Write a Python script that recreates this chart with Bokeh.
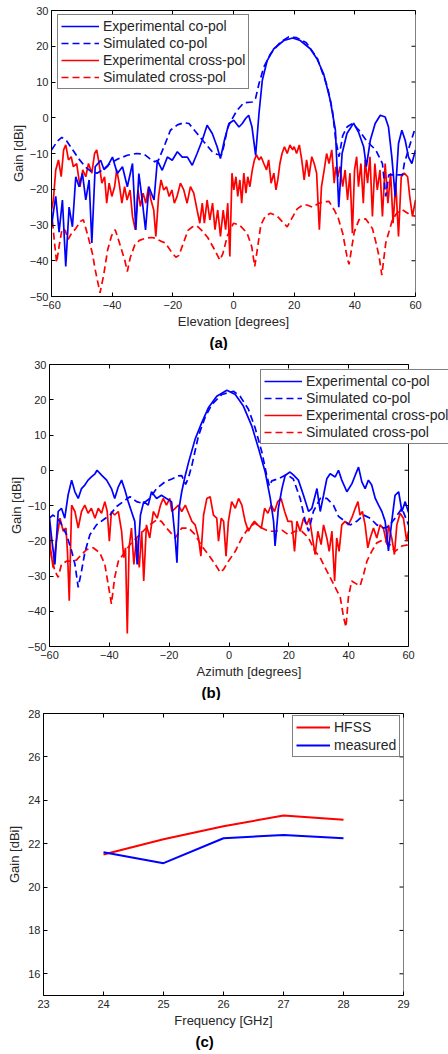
from math import pi
from bokeh.plotting import figure
from bokeh.models import (Range1d, FixedTicker, LinearAxis, CustomJSTickFormatter,
                          Legend, LegendItem, Title, Span)
from bokeh.embed import file_html
from bokeh.resources import INLINE

# ---------------- data: panel (a) elevation ----------------
A_EXP_CO = [(-60, -30.5), (-59.3, -26), (-58.6, -22), (-57.5, -32), (-56.4, -23), (-55.3, -41.6),
            (-54.2, -25), (-53.1, -30.5), (-52, -16.5), (-50.9, -19.3), (-49.8, -15.6), (-48.7, -23),
            (-47.6, -17.4), (-46.7, -35), (-45.6, -13.7), (-43.8, -11.9), (-42.7, -14.5), (-41.6, -13.7),
            (-39.9, -11), (-38.3, -15.6), (-36.6, -13.7), (-35, -19.3), (-33.3, -12.8), (-32.2, -31.4),
            (-31.2, -15.6), (-30.1, -23), (-29, -31.4), (-27.9, -19.3), (-26.2, -23), (-25.1, -11.9),
            (-23.5, -14.7), (-21.8, -11), (-20.2, -11.9), (-18.5, -9.5), (-16.9, -11), (-15.2, -11),
            (-13.6, -13.3), (-12, -10), (-10.3, -6.3), (-8.7, -2.1), (-7, -4.4), (-5.4, -8.1),
            (-4.3, -11.4), (-3, -6.3), (-1.5, -1.6), (0.1, -0.7), (1.8, -2.6), (2.9, -1.6), (4, -0.2),
            (5, 0.7), (6.1, -2.6), (7.3, -10.5), (8.4, 1.2), (9.5, 10.5), (11.1, 16), (13.3, 19.3),
            (16.6, 21.6), (19.5, 22.3), (22, 21.6), (25.3, 19.3), (27.5, 16.5), (29.7, 12.3),
            (31.9, 4.9), (33.6, -3.5), (34.7, -25), (35.8, -10), (37.4, -4.4), (39.6, -1.5),
            (41.2, -4), (42.9, -8.1), (43.8, -13.7), (45.1, -6.3), (46.7, -1.6), (48.4, 0.7),
            (50, 0.2), (51.1, -2.6), (52.2, -11), (53.3, -22), (54.4, -7.2), (55.5, -3.5),
            (56.6, -6.3), (57.7, -11), (58.8, -12.8), (60, -9)]

A_SIM_CO = [(-60, -9), (-58, -6.5), (-56.6, -5.5), (-55, -6.5), (-53.3, -8.6), (-51.1, -11.4),
            (-48.9, -13.7), (-47, -15), (-45, -15.5), (-43, -14.5), (-40.7, -12.8), (-38, -11.5),
            (-35, -10.5), (-32, -10), (-29.5, -10.2), (-27.5, -11.5), (-26, -12.3), (-24.7, -11.8),
            (-22.5, -7.2), (-20.8, -3.5), (-18.5, -2), (-16.4, -1.4), (-14.7, -1.6), (-12, -4.4),
            (-9.8, -6.7), (-7, -9.5), (-5.5, -10.2), (-4, -10.5), (-3.2, -8), (-2, -3), (-1, -1.1),
            (1.2, 2.1), (3.4, 4.2), (6.2, 4.4), (7.3, 5.5), (8.4, 9.5), (10, 14.2), (12.2, 17.9),
            (15.5, 21.2), (18.2, 22.6), (20.8, 22.4), (24, 21), (27.7, 16.5), (31, 8.6), (32.6, 2.1),
            (33.7, -6.2), (34.8, -10.9), (36, -5), (37.5, -2.5), (39.2, -1.6), (41.4, -3.5),
            (43.5, -6), (44.7, -7.2), (46.9, -9), (49.1, -12.8), (50.2, -22), (51.2, -16),
            (52.5, -16), (55.7, -16), (56.3, -12.8), (58, -8), (60, -2.6)]

A_EXP_X = [(-60, -25.8), (-59.4, -23), (-58.6, -14.6), (-57.7, -11.8), (-56.8, -16.5), (-56, -9),
           (-55.3, -7.6), (-54.4, -11.8), (-53.5, -10.9), (-52.8, -13.7), (-51.7, -12.8), (-50.6, -19.3),
           (-49.7, -14.6), (-48.7, -16.5), (-47.8, -12.8), (-46.7, -15.5), (-45.8, -10), (-45.1, -9),
           (-44.3, -12.8), (-43.4, -18.3), (-42.5, -16.5), (-41.8, -23.9), (-41, -18.3), (-40.1, -22),
           (-39.2, -19.3), (-38.5, -14.6), (-37.7, -18.3), (-36.8, -23.9), (-35.9, -19.3), (-35.1, -23),
           (-34.1, -20.2), (-33.3, -27.6), (-32.4, -31.3), (-31.5, -20.2), (-30.7, -24.8), (-29.8, -21.1),
           (-28.9, -23.9), (-28, -19.3), (-27.2, -23), (-26.3, -25.8), (-25.6, -33.2), (-24.7, -22),
           (-23.9, -17.4), (-23, -20.2), (-22.1, -19.3), (-21.2, -22), (-20.3, -20.2), (-19.5, -23.9),
           (-18.6, -22), (-17.5, -18.3), (-16.4, -20.2), (-15.3, -23.9), (-14.2, -19.3), (-13.1, -21.1),
           (-12, -25.8), (-11.1, -29.5), (-10.3, -23.9), (-9.6, -29.5), (-8.7, -23), (-7.8, -28.6),
           (-6.9, -23.9), (-6.1, -31.3), (-5.2, -25.8), (-4.3, -33.2), (-3.4, -25.8), (-2.6, -31.3),
           (-1.9, -23.9), (-1.2, -38.8), (-0.5, -15.5), (0.1, -20.2), (0.8, -16.5), (1.4, -22),
           (2.1, -17.4), (2.7, -23.9), (3.4, -15.5), (4.1, -21.1), (4.7, -16.5), (5.4, -19.3),
           (6.2, -14.6), (6.9, -11.8), (7.6, -10.4), (8.4, -11.8), (9.1, -10.9), (10, -12.8),
           (10.9, -14.6), (11.6, -11.8), (12.4, -18.3), (13.3, -15.5), (14, -20.2), (14.6, -17.4),
           (15.3, -12.8), (16, -10), (16.8, -8.1), (17.7, -10), (18.6, -7.6), (19.5, -9), (20, -8.1),
           (20.8, -10), (21.7, -7.6), (22.5, -11.8), (23.3, -17.4), (24.1, -11.8), (24.9, -16.5),
           (25.8, -10.9), (26.6, -12.8), (27.4, -15.5), (28.3, -31.3), (29, -19.3), (29.9, -14.6),
           (30.7, -10), (31.5, -12.8), (32.4, -9), (33.2, -18.3), (33.7, -13.7), (34.4, -16.5),
           (35.1, -13.7), (36, -19.3), (36.8, -14.6), (37.6, -23), (38.4, -15.5), (39.2, -32.3),
           (39.9, -14.6), (40.6, -10.9), (41.2, -19.3), (42, -12.8), (42.8, -23.9), (43.4, -11.8),
           (44.2, -18.3), (45, -10.9), (45.8, -27.6), (46.6, -12.8), (47.4, -20.2), (48.3, -14.6),
           (49.1, -27.6), (50, -12.8), (50.9, -23.9), (51.8, -15.5), (52.6, -29.5), (53.5, -18.3),
           (54.4, -33.2), (55.3, -16.5), (56.3, -15.5), (57.4, -16.5), (58.1, -22), (59, -27.6),
           (60, -23)]

A_SIM_X = [(-60, -26), (-59, -35), (-58.3, -40.5), (-57.5, -36), (-56.5, -31), (-55.5, -31.5),
           (-54.5, -34), (-53.5, -32.5), (-52, -31), (-50.5, -29), (-49.5, -28.5), (-48, -33),
           (-46.5, -38), (-45.6, -42.5), (-44, -49), (-42.8, -44), (-41.5, -37), (-40.2, -33),
           (-39, -31.3), (-37.6, -35), (-35.8, -40), (-35, -43), (-34, -39), (-32.5, -35.5),
           (-31, -34.3), (-29, -33.7), (-27, -33.5), (-25.8, -33.7), (-24, -34.5), (-22.5, -35),
           (-20.5, -37.5), (-19, -39), (-18, -38.5), (-16.5, -35), (-15, -31.5), (-13.5, -30.5),
           (-12, -30.3), (-10.5, -31.5), (-8.5, -33.5), (-6.5, -36.5), (-4.5, -39.8), (-3.5, -38),
           (-2, -33), (0, -29.5), (2, -30), (4.5, -32.3), (6, -36), (7, -41.6), (8, -36), (9, -30),
           (10.5, -27.5), (12.2, -26.7), (14.4, -27.5), (16, -29), (17.7, -30.5), (19, -28.5),
           (21, -25.5), (22.8, -24.4), (24.2, -24.4), (26, -25), (28, -24), (29.7, -23.5),
           (31.5, -23.4), (33.2, -25.8), (34.5, -28), (36, -32.3), (37.6, -39.7), (38.1, -41),
           (39.8, -32), (41.4, -28.5), (43.6, -28.3), (45.8, -31), (47, -35), (48, -38.8),
           (48.9, -44), (50.2, -35), (52.4, -28.5), (54, -26.5), (55.7, -25.8), (58, -27), (60, -27.6)]

# ---------------- data: panel (b) azimuth ----------------
B_EXP_CO = [(-60, -13.5), (-59.3, -19.2), (-58.2, -26.7), (-57.1, -11.7), (-56, -10.8), (-54.9, -13.6),
            (-53.8, -7.1), (-52.6, -2.8), (-51.5, -6.1), (-50.4, -8), (-49.3, -5.2), (-48.2, -4.2),
            (-47.1, -2.8), (-46, -1.9), (-44.8, -1), (-44.1, 0), (-42.6, -1.4), (-40.9, -2.8),
            (-39.3, -5.2), (-38.2, -8), (-37, -4.7), (-35.9, -2.8), (-34.8, -5.6), (-33.7, -8.9),
            (-32.6, -11.7), (-31.5, -14.5), (-30.7, -26.7), (-29.6, -12.7), (-28.5, -8.9), (-27, -9.9),
            (-25.9, -6.1), (-24.2, -8), (-22.6, -7.1), (-20.9, -8), (-19.2, -8.9), (-18, -19.2),
            (-17.4, -26.2), (-16.7, -10.8), (-15.8, -6.1), (-14.6, -1.4), (-13.5, 2.3), (-11.3, 8.9),
            (-9.1, 13.5), (-6.9, 17.7), (-4.1, 21), (-0.7, 22.7), (2.1, 21.5), (4.8, 18.2), (7.6, 12.6),
            (9.9, 6.1), (12.1, -0.5), (13.8, -8), (14.9, -14.5), (15.4, -21.5), (16.5, -10.8),
            (17.7, -5.2), (18.8, -1.4), (20.4, -0.5), (21.6, -1.4), (23.2, -2.8), (24.9, -7.1),
            (26.6, -11.7), (27.7, -10.8), (29.4, -5.2), (30.5, -11.7), (31.6, -7.1), (32.7, -2.4),
            (33.8, -1), (35.5, -1.9), (36.6, 0), (37.7, -2.8), (39.4, -6.1), (41.1, -3.8), (42.2, -1.4),
            (43.3, 0.9), (44.4, -3.3), (45.5, -5.2), (46.6, -2.8), (47.7, -4.2), (48.9, -8), (50, -9.9),
            (51.1, -11.7), (52.2, -14.5), (53.3, -22.9), (54.4, -14.5), (55.5, -7.1), (56.7, -6.1),
            (57.8, -11.7), (58.9, -8.9), (60, -12)]

B_SIM_CO = [(-60, -13.5), (-58.8, -12.7), (-56.5, -14.5), (-54.3, -18.3), (-52.6, -22.9), (-51.5, -26.7),
            (-50.4, -33.2), (-49.3, -28.6), (-48.2, -23.4), (-46.5, -18.3), (-44.3, -15.5), (-42.1, -14.1),
            (-39.8, -12.7), (-37.6, -10.3), (-35.4, -8.9), (-33.1, -7.5), (-30.9, -8.9), (-28.7, -9.4),
            (-26.5, -8), (-24.2, -5.2), (-21.4, -3.3), (-18.9, -2.4), (-17, -1.6), (-15.8, -1.5),
            (-14.5, -4), (-13.5, -2), (-12.4, 1.4), (-10.2, 9.8), (-8, 15), (-5.7, 18.7), (-2.4, 21.5),
            (1.5, 22.4), (3.7, 21), (6.5, 17.3), (8.7, 12.1), (11, 5.1), (12.6, -1.4), (13.5, -4.5),
            (14.3, -3), (16.5, -2.4), (19.3, -1.2), (21.5, -2.5), (23.8, -8), (25.5, -14.5),
            (26.6, -17.3), (28.2, -11.7), (30.5, -8), (32.7, -8), (34.9, -9.9), (36.6, -13.1),
            (38.8, -14.5), (40.5, -15.5), (42.7, -14.5), (45, -12.7), (47.2, -13.6), (49.4, -15.5),
            (51.6, -16.4), (53.3, -16), (55.5, -13.6), (57.8, -10.8), (60, -15.5)]

B_EXP_X = [(-60, -15.5), (-59.7, -22), (-58.8, -27.6), (-57.7, -20.1), (-56.5, -13.6), (-55.4, -17.3),
           (-54.5, -16.4), (-54, -23), (-53.4, -37), (-52.6, -9.9), (-51.5, -11.7), (-50.4, -16.4),
           (-49.3, -11.7), (-48.2, -9.9), (-47.1, -12.2), (-46, -10.8), (-44.8, -13.6), (-43.7, -10.8),
           (-42.6, -12.2), (-41.5, -8.9), (-40.7, -11.7), (-40, -20.1), (-39.3, -11.7), (-38.2, -12.7),
           (-37, -11.7), (-35.9, -17.3), (-35.2, -24.8), (-34.6, -22), (-34, -46.3), (-33.4, -22),
           (-32.6, -16.4), (-31.8, -26.7), (-30.9, -19.2), (-30, -27.6), (-29.2, -17.3), (-28.5, -31.4),
           (-27.6, -15.5), (-26.5, -19.2), (-25.3, -11.7), (-24, -13.6), (-22.9, -9.9), (-22, -8),
           (-20.9, -9.9), (-19.8, -8), (-19.1, -11.7), (-18, -10.8), (-16.9, -9.9), (-15.8, -11.7),
           (-14.6, -9.9), (-13.5, -12.2), (-12.4, -14.5), (-11.3, -15.5), (-10.2, -19.2), (-9.4, -24.4),
           (-8.5, -12.7), (-7.4, -8), (-6.3, -7.5), (-5.2, -12.7), (-4.1, -13.6), (-3.5, -20.1),
           (-2.6, -13.6), (-1.8, -14.5), (-1, -24.4), (-0.2, -14.5), (0.9, -8.9), (2.1, -10.8),
           (3.2, -8), (4.3, -9.9), (5.4, -14.5), (6.5, -17.3), (7.6, -15.5), (8.5, -14.5), (9.6, -15.5),
           (10.8, -16.4), (11.9, -10.8), (13, -12.2), (14.1, -9.9), (15.2, -11.7), (16.3, -8.9),
           (17.4, -8), (18.6, -11.7), (19.7, -14.5), (21, -14.5), (21.9, -23), (22.7, -14.5),
           (23.8, -17.3), (24.9, -13.6), (26, -15.5), (26.9, -13.6), (27.9, -19.2), (28.8, -23.9),
           (29.7, -17.3), (30.8, -21.1), (31.6, -15.5), (32.7, -19.2), (33.5, -23), (34.4, -17.3),
           (35.3, -31.4), (36, -19.2), (36.8, -23), (37.7, -15.5), (38.8, -14.5), (39.9, -15.5),
           (41, -13.6), (42.2, -10.8), (43.1, -8.9), (43.8, -12.7), (44.6, -11.7), (45.5, -15.5),
           (46.4, -22), (47.2, -19.2), (48.3, -16.4), (49.4, -19.2), (50.5, -15.5), (51.6, -16.4),
           (52.8, -21.1), (53.3, -15.5), (54.4, -19.2), (55.3, -23.9), (56.1, -15.5), (57.2, -12.2),
           (58.3, -13.6), (59.4, -20.1), (60, -17.3)]

B_SIM_X = [(-60, -20), (-59.3, -24.8), (-58.2, -28.6), (-57.1, -30.4), (-56, -26.7), (-54.3, -25.8),
           (-52.6, -25.8), (-51, -25.5), (-49.3, -23.9), (-47.6, -22.5), (-45.4, -22), (-43.2, -23.4),
           (-41.5, -26.7), (-40.4, -32.3), (-39.3, -37.9), (-38.2, -30.4), (-37, -25.8), (-35.4, -23.9),
           (-33.1, -21.1), (-30.9, -19.2), (-28.7, -17.3), (-26.5, -15.5), (-24.2, -14.1), (-22.6, -14.5),
           (-20.9, -16.4), (-18.9, -18.3), (-18, -19.2), (-15.8, -16.4), (-13.5, -16.4), (-11.3, -18.3),
           (-9.1, -21.5), (-6.9, -23.9), (-4.6, -26.7), (-2.9, -29), (-1.8, -28.1), (-0.2, -25.8),
           (2.1, -23), (4.3, -19.2), (6.5, -16.4), (8.7, -15), (11, -16.4), (13.2, -17.3), (15.4, -17.3),
           (17.7, -17), (19.9, -18.3), (22.1, -17.3), (24.3, -17.3), (26.6, -19.2), (28.8, -23),
           (30.5, -24.8), (32.1, -27.6), (33.8, -30.4), (35.5, -33.2), (37.2, -36.1), (38.3, -41.7),
           (39.1, -44.5), (39.9, -36.1), (41, -31.4), (42.7, -32.3), (43.8, -32.8), (45, -29.5),
           (46.1, -25.8), (47.7, -23), (49.4, -20.6), (51.6, -19.7), (53.8, -21.1), (55.5, -23),
           (57.8, -21.5), (60, -21.1)]

# ---------------- data: panel (c) gain vs frequency ----------------
FREQ = [24, 25, 26, 27, 28]
GAIN_HFSS = [21.5, 22.2, 22.8, 23.3, 23.1]
GAIN_MEAS = [21.6, 21.1, 22.25, 22.4, 22.25]

ANGLE_TICKS = [-60, -40, -20, 0, 20, 40, 60]
GAIN_TICKS_AB = [-50, -40, -30, -20, -10, 0, 10, 20, 30]
FREQ_TICKS = [23, 24, 25, 26, 27, 28, 29]
GAIN_TICKS_C = [16, 18, 20, 22, 24, 26, 28]

LABELS_AB = ["Experimental co-pol", "Simulated co-pol", "Experimental cross-pol", "Simulated cross-pol"]
LABELS_C = ["HFSS", "measured"]

FONT = "Liberation Sans"
TXT = "#262626"
BLUE = "#0000ff"
RED = "#ff0000"


def unzip(pairs):
    return [a for a, _ in pairs], [b for _, b in pairs]


def make_fig(height, left, right, top, bottom, xr, x_view_end, yr, xt, yt, xlabel, tag, tag_offset,
             ylabel_standoff):
    # the frame may extend past the last x tick (x_view_end) so that a legend can overhang the box
    p = figure(width=448, height=height, x_range=Range1d(xr[0], x_view_end), y_range=Range1d(*yr),
               output_backend="svg", toolbar_location=None,
               min_border_left=left, min_border_right=right,
               min_border_top=top, min_border_bottom=bottom)
    p.xgrid.visible = False
    p.ygrid.visible = False
    p.outline_line_color = None
    p.background_fill_color = "white"
    p.border_fill_color = "white"
    p.xaxis.ticker = FixedTicker(ticks=xt)
    p.yaxis.ticker = FixedTicker(ticks=yt)
    p.xaxis.bounds = xr
    for ax in (p.xaxis[0], p.yaxis[0]):
        ax.major_tick_in = 4
        ax.major_tick_out = 0
        ax.minor_tick_line_color = None
        ax.axis_line_color = "black"
        ax.major_tick_line_color = "black"
        ax.major_label_text_font = FONT
        ax.major_label_text_font_size = "11px"
        ax.major_label_text_color = TXT
        ax.axis_label_text_font = FONT
        ax.axis_label_text_font_size = "13px"
        ax.axis_label_text_font_style = "normal"
        ax.axis_label_text_color = TXT
    p.xaxis.axis_label = xlabel
    p.yaxis.axis_label = "Gain [dBi]"
    p.xaxis.major_label_standoff = 4
    p.xaxis.axis_label_standoff = 2
    p.yaxis.major_label_standoff = 3
    p.yaxis.axis_label_standoff = ylabel_standoff
    # top edge of the box with inward ticks
    blank = CustomJSTickFormatter(code="return ''")
    top_ax = LinearAxis(ticker=FixedTicker(ticks=xt), formatter=blank, major_tick_in=4,
                        major_tick_out=0, minor_tick_line_color=None, axis_line_color="black",
                        major_label_standoff=0, major_label_text_font_size="0px", bounds=xr)
    p.add_layout(top_ax, "above")
    # right edge of the box with inward ticks
    p.add_layout(Span(location=xr[1], dimension="height", line_color="black", line_width=1))
    p.ray(x=[xr[1]] * len(yt), y=yt, length=4, length_units="screen", angle=pi,
          line_color="black", line_width=1)
    p.add_layout(Title(text=tag, align="left", offset=tag_offset, text_font=FONT,
                       text_font_size="15px", text_font_style="bold", text_color="black",
                       standoff=0), "below")
    return p


def make_legend(items, loc, pad, lh, sp, gw):
    return Legend(items=items, location=loc, border_line_color="black", border_line_width=1,
                  background_fill_color="white", background_fill_alpha=1,
                  label_text_font=FONT, label_text_font_size="14px", label_text_color=TXT,
                  glyph_width=gw, glyph_height=lh, label_height=lh, label_standoff=4,
                  padding=pad, spacing=sp, margin=0)


def pattern_panel(height, left, right, top, bottom, x_view_end, series, xlabel, tag, tag_offset,
                  legend_loc):
    p = make_fig(height, left, right, top, bottom, (-60, 60), x_view_end, (-50, 30), ANGLE_TICKS,
                 GAIN_TICKS_AB, xlabel, tag, tag_offset, 1)
    styles = [(BLUE, "solid"), (BLUE, "7 4"), (RED, "solid"), (RED, "7 4")]
    order = [2, 3, 1, 0]  # red first, blue on top
    rends = [None] * 4
    for i in order:
        xs, ys = unzip(series[i])
        col, dash = styles[i]
        rends[i] = p.line(xs, ys, line_color=col, line_width=1.7, line_dash=dash)
    items = [LegendItem(label=LABELS_AB[i], renderers=[rends[i]]) for i in range(4)]
    p.add_layout(make_legend(items, legend_loc, 3, 16, 1, 38))
    return p


# (a): frame 51..415 ; (b): frame 49..448 with the box ending at x=60 (408 px)
pa = pattern_panel(350, 51, 33, 10, 53, 60, [A_EXP_CO, A_SIM_CO, A_EXP_X, A_SIM_X],
                   "Elevation [degrees]", "(a)", 158, (6, 207))
pb = pattern_panel(350, 49, 0, 14, 51, 60 + 40 * 120 / 359, [B_EXP_CO, B_SIM_CO, B_EXP_X, B_SIM_X],
                   "Azimuth [degrees]", "(b)", 152, (211, 202))

pc = make_fig(354, 43, 45, 13, 59, (23, 29), 29, (15, 28), FREQ_TICKS, GAIN_TICKS_C,
              "Frequency [GHz]", "(c)", 152, 3)
r_h = pc.line(FREQ, GAIN_HFSS, line_color=RED, line_width=2)
r_m = pc.line(FREQ, GAIN_MEAS, line_color=BLUE, line_width=2)
pc.add_layout(make_legend([LegendItem(label=LABELS_C[0], renderers=[r_h]),
                           LegendItem(label=LABELS_C[1], renderers=[r_m])],
                          (249, 238), 3, 16, 2, 34))

# three independent roots stacked on the page (no frame alignment between them)
open("out.html", "w").write(file_html([pa, pb, pc], INLINE))
